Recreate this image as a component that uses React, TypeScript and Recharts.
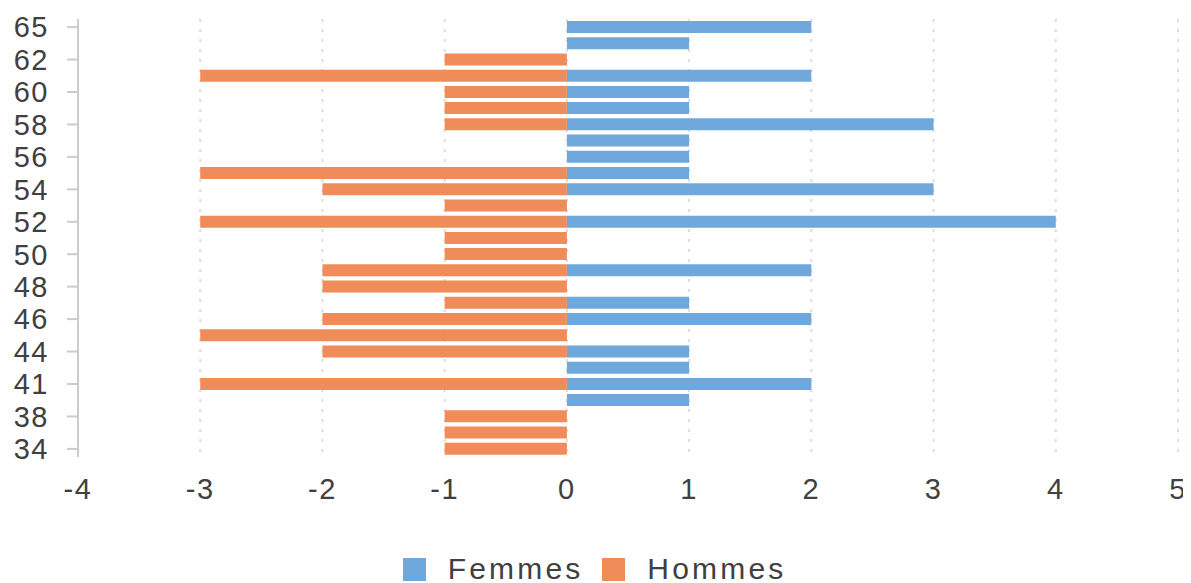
import { BarChart, Bar, XAxis, YAxis, CartesianGrid, Legend } from "recharts";

const ages = [
  "65", "63", "62", "61", "60", "59", "58", "57", "56", "55", "54", "53", "52", "51",
  "50", "49", "48", "47", "46", "45", "44", "42", "41", "39", "38", "36", "34",
];
const femmes = [2, 1, 0, 2, 1, 1, 3, 1, 1, 1, 3, 0, 4, 0, 0, 2, 0, 1, 2, 0, 1, 1, 2, 1, 0, 0, 0];
const hommes = [0, 0, -1, -3, -1, -1, -1, 0, 0, -3, -2, -1, -3, -1, -1, -2, -2, -1, -2, -3, -2, 0, -3, 0, -1, -1, -1];
const xTicks = [-4, -3, -2, -1, 0, 1, 2, 3, 4, 5];

const BLUE = "#6fa8dc";
const ORANGE = "#f08c5a";
const TEXT = "#404040";
const FONT = "'Liberation Sans', Arial, sans-serif";

const data = ages.map((age, i) => ({ age, Femmes: femmes[i], Hommes: hommes[i] }));

const LegendContent = () => (
  <div style={{ display: "flex", justifyContent: "center", alignItems: "center", gap: 22, fontFamily: FONT, fontSize: 30, lineHeight: "30px", color: TEXT, letterSpacing: 3.2 }}>
    {[
      { name: "Femmes", color: BLUE },
      { name: "Hommes", color: ORANGE },
    ].map((s) => (
      <div key={s.name} style={{ display: "flex", alignItems: "center" }}>
        <span style={{ width: 23, height: 23, background: s.color, display: "inline-block", marginRight: 22 }} />
        <span style={{ marginRight: -3.2 }}>{s.name}</span>
      </div>
    ))}
  </div>
);

export default function App() {
  return (
    <BarChart
      width={1183}
      height={600}
      data={data}
      layout="vertical"
      stackOffset="sign"
      margin={{ top: 11, right: 13, left: 0, bottom: 24 }}
    >
      <CartesianGrid horizontal={false} stroke="#ddd" strokeWidth={2} strokeDasharray="3 7" />
      <XAxis
        type="number"
        domain={[-4, 5]}
        ticks={xTicks}
        axisLine={false}
        tickLine={false}
        tickMargin={15}
        height={97}
        tick={{ fill: TEXT, fontSize: 29, fontFamily: FONT, letterSpacing: 1.5 }}
      />
      <YAxis
        type="category"
        dataKey="age"
        width={70}
        interval={1}
        axisLine={{ stroke: "#ccc", strokeWidth: 2 }}
        tickLine={{ stroke: "#ccc", strokeWidth: 2 }}
        tickSize={11}
        tickMargin={18}
        tick={{ fill: TEXT, fontSize: 29, fontFamily: FONT, letterSpacing: 1.5 }}
      />
      <Legend verticalAlign="bottom" content={<LegendContent />} />
      <Bar dataKey="Femmes" stackId="a" fill={BLUE} barSize={12} isAnimationActive={false} />
      <Bar dataKey="Hommes" stackId="a" fill={ORANGE} barSize={12} isAnimationActive={false} />
    </BarChart>
  );
}
